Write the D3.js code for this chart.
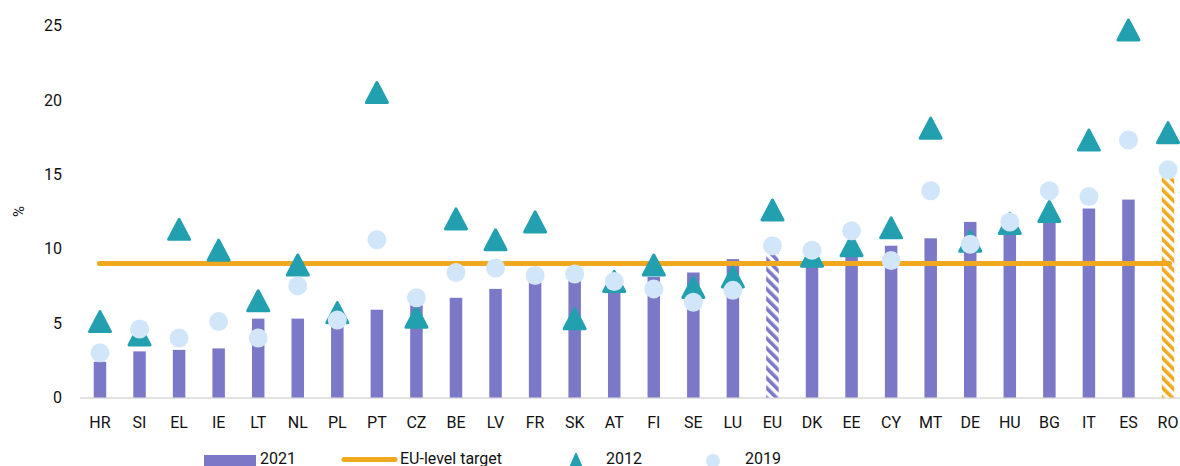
<!DOCTYPE html>
<html>
<head>
<meta charset="utf-8">
<script src="https://cdn.jsdelivr.net/npm/d3@7"></script>
<style>
  html, body { margin: 0; padding: 0; background: #fff; }
  svg { display: block; font-family: Roboto, "Open Sans", sans-serif; }
</style>
</head>
<body>
<svg id="chart" width="1180" height="466"></svg>
<script>
const categories = ["HR","SI","EL","IE","LT","NL","PL","PT","CZ","BE","LV","FR","SK","AT","FI","SE","LU","EU","DK","EE","CY","MT","DE","HU","BG","IT","ES","RO"];
const values2021 = [2.4,3.1,3.2,3.3,5.3,5.3,5.1,5.9,6.2,6.7,7.3,8.0,8.0,7.5,8.1,8.4,9.3,9.7,9.2,9.7,10.2,10.7,11.8,11.3,12.0,12.7,13.3,14.8];
const values2012 = [5.1,4.2,11.3,9.9,6.5,8.9,5.7,20.5,5.4,12.0,10.6,11.8,5.3,7.8,8.9,7.4,8.1,12.6,9.5,10.2,11.4,18.1,10.5,11.7,12.5,17.3,24.7,17.8];
const values2019 = [3.0,4.6,4.0,5.1,4.0,7.5,5.2,10.6,6.7,8.4,8.7,8.2,8.3,7.8,7.3,6.4,7.2,10.2,9.9,11.2,9.2,13.9,10.3,11.8,13.9,13.5,17.3,15.3];
const targetValue = 9;
const yTicks = [0,5,10,15,20,25];
const legendLabels = ["2021","EU-level target","2012","2019"];

const purple = "#7B78C8", teal = "#23A0B0", lightBlue = "#D2E6FA", orange = "#F0A81E";

const svg = d3.select("#chart");
const defs = svg.append("defs");
function hatch(id, color) {
  const p = defs.append("pattern").attr("id", id).attr("patternUnits", "userSpaceOnUse")
    .attr("width", 7).attr("height", 7).attr("patternTransform", "rotate(-45)");
  p.append("rect").attr("width", 7).attr("height", 7).attr("fill", "#fff");
  p.append("rect").attr("x", 0).attr("y", 0).attr("width", 3.6).attr("height", 7).attr("fill", color);
}
hatch("hatchPurple", purple);
hatch("hatchOrange", orange);

const x = d3.scalePoint().domain(categories).range([80.2, 1187.8]).padding(0.5);
const y = d3.scaleLinear().domain([0, 25]).range([397.5, 25.5]);
const bw = 12.5;

// baseline
svg.append("line").attr("x1", 80).attr("x2", 1180).attr("y1", y(0) + 0.5).attr("y2", y(0) + 0.5)
  .attr("stroke", "#D9D9D9").attr("stroke-width", 1.5);

// y tick labels
svg.append("g").selectAll("text").data(yTicks).join("text")
  .attr("x", 62).attr("y", d => y(d)).attr("dy", "0.36em").attr("text-anchor", "end")
  .attr("font-size", 16).attr("fill", "#111").text(d => d);

svg.append("text").attr("transform", `translate(24,${y(12.5)}) rotate(-90)`)
  .attr("text-anchor", "middle").attr("font-size", 15).attr("fill", "#111").text("%");

// x labels
svg.append("g").selectAll("text").data(categories).join("text")
  .attr("x", d => x(d)).attr("y", 427.5).attr("text-anchor", "middle")
  .attr("font-size", 16).attr("fill", "#111").text(d => d);

// bars
svg.append("g").selectAll("rect").data(categories).join("rect")
  .attr("x", d => x(d) - bw / 2).attr("width", bw)
  .attr("y", (d, i) => y(values2021[i])).attr("height", (d, i) => y(0) - y(values2021[i]))
  .attr("fill", d => d === "EU" ? "url(#hatchPurple)" : d === "RO" ? "url(#hatchOrange)" : purple);

// target line
svg.append("line")
  .attr("x1", x(categories[0]) - 0.5).attr("x2", x(categories[categories.length - 1]) + 1.5)
  .attr("y1", y(targetValue)).attr("y2", y(targetValue))
  .attr("stroke", orange).attr("stroke-width", 5).attr("stroke-linecap", "round");

// triangles
const tri = (w, h) => `M0,${-h/2} L${w/2},${h/2} L${-w/2},${h/2} Z`;
svg.append("g").selectAll("path").data(categories).join("path")
  .attr("transform", (d, i) => `translate(${x(d)},${y(values2012[i])})`)
  .attr("d", tri(21, 20)).attr("fill", teal).attr("stroke", teal)
  .attr("stroke-width", 3).attr("stroke-linejoin", "round");

// circles
svg.append("g").selectAll("circle").data(categories).join("circle")
  .attr("cx", d => x(d)).attr("cy", (d, i) => y(values2019[i])).attr("r", 9.5)
  .attr("fill", lightBlue);

// legend
const ly = 463.5;
const lg = svg.append("g");
lg.append("rect").attr("x", 204).attr("y", 455).attr("width", 52).attr("height", 12).attr("fill", purple);
lg.append("text").attr("x", 260).attr("y", ly).attr("font-size", 16).attr("fill", "#111").text(legendLabels[0]);
lg.append("line").attr("x1", 344).attr("x2", 395).attr("y1", 459.5).attr("y2", 459.5)
  .attr("stroke", orange).attr("stroke-width", 5).attr("stroke-linecap", "round");
lg.append("text").attr("x", 400).attr("y", ly).attr("font-size", 16).attr("fill", "#111").text(legendLabels[1]);
lg.append("path").attr("transform", "translate(576,461)").attr("d", tri(12, 14))
  .attr("fill", teal).attr("stroke", teal).attr("stroke-width", 2).attr("stroke-linejoin", "round");
lg.append("text").attr("x", 606).attr("y", ly).attr("font-size", 16).attr("fill", "#111").text(legendLabels[2]);
lg.append("circle").attr("cx", 713).attr("cy", 461).attr("r", 7).attr("fill", lightBlue);
lg.append("text").attr("x", 745).attr("y", ly).attr("font-size", 16).attr("fill", "#111").text(legendLabels[3]);
</script>
</body>
</html>
